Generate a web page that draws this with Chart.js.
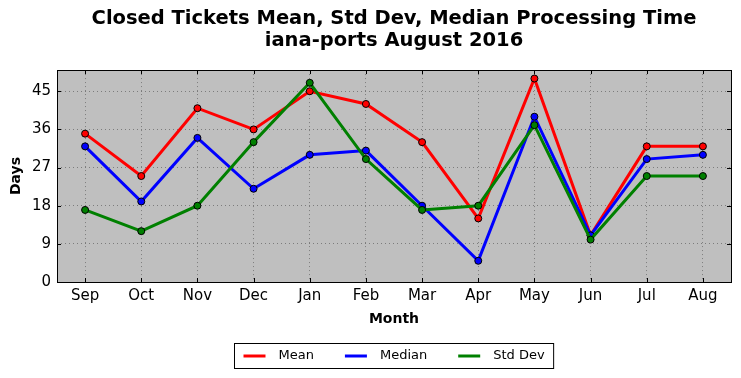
<!DOCTYPE html>
<html>
<head>
<meta charset="utf-8">
<script src="https://cdn.jsdelivr.net/npm/chart.js@4/dist/chart.umd.min.js"></script>
<style>
html,body{margin:0;padding:0;background:#fff;}
#wrap{width:741px;height:378px;}
</style>
</head>
<body>
<div id="wrap"><canvas id="c" width="741" height="378"></canvas></div>
<script>
const months = ["Sep","Oct","Nov","Dec","Jan","Feb","Mar","Apr","May","Jun","Jul","Aug"];
const meanValues = [35, 25, 41, 36, 45, 42, 33, 15, 48, 11, 32, 32];
const medianValues = [32, 19, 34, 22, 30, 31, 18, 5, 39, 11, 29, 30];
const stdDevValues = [17, 12, 18, 33, 47, 29, 17, 18, 37, 10, 25, 25];
const yTickValues = [0, 9, 18, 27, 36, 45];
const titleLines = ["Closed Tickets Mean, Std Dev, Median Processing Time", "iana-ports August 2016"];

const FONT = "'DejaVu Sans', sans-serif";

const frame = {
  id: 'frame',
  beforeDraw(chart) {
    const {ctx, chartArea: a} = chart;
    ctx.save();
    ctx.fillStyle = '#bfbfbf';
    ctx.fillRect(a.left, a.top, a.right - a.left, a.bottom - a.top);
    ctx.restore();
  },
  afterDraw(chart) {
    const {ctx, chartArea: a, scales} = chart;
    ctx.save();
    ctx.strokeStyle = '#000';
    ctx.lineWidth = 1;
    ctx.beginPath();
    scales.y.ticks.forEach(t => {
      const y = Math.round(scales.y.getPixelForValue(t.value)) + 0.5;
      ctx.moveTo(a.left, y); ctx.lineTo(a.left + 4, y);
      ctx.moveTo(a.right, y); ctx.lineTo(a.right - 4, y);
    });
    months.forEach((m, i) => {
      const x = Math.round(scales.x.getPixelForValue(i)) + 0.5;
      ctx.moveTo(x, a.bottom); ctx.lineTo(x, a.bottom - 4);
      ctx.moveTo(x, a.top); ctx.lineTo(x, a.top + 4);
    });
    ctx.stroke();
    ctx.strokeRect(Math.round(a.left) + 0.5, Math.round(a.top) + 0.5,
                   Math.round(a.right - a.left), Math.round(a.bottom - a.top));
    // legend box
    ctx.font = "13px " + FONT;
    const ds = chart.data.datasets;
    const lineW = 22, gap = 13, spacing = 31, pad = 9;
    const widths = ds.map(d => lineW + gap + ctx.measureText(d.label).width);
    const total = widths.reduce((s, w) => s + w, 0) + spacing * (ds.length - 1) + pad * 2;
    const cx = (a.left + a.right) / 2;
    const bx = Math.round(cx - total / 2) + 0.5;
    const by = 343.5, bh = 25;
    ctx.fillStyle = '#fff';
    ctx.fillRect(bx, by, total, bh);
    ctx.strokeStyle = '#000';
    ctx.strokeRect(bx, by, total, bh);
    let x = bx + pad;
    const ly = by + bh / 2;
    ds.forEach((d, i) => {
      ctx.strokeStyle = d.borderColor;
      ctx.lineWidth = 3;
      ctx.beginPath();
      ctx.moveTo(x, ly); ctx.lineTo(x + lineW, ly);
      ctx.stroke();
      ctx.fillStyle = '#000';
      ctx.textBaseline = 'middle';
      ctx.textAlign = 'left';
      ctx.fillText(d.label, x + lineW + gap, ly);
      x += widths[i] + spacing;
    });
    ctx.restore();
  }
};

function mkds(label, data, color, order) {
  return {
    label, data, order,
    borderColor: color,
    backgroundColor: color,
    borderWidth: 3,
    pointRadius: 3.5,
    pointBorderColor: '#000',
    pointBorderWidth: 1,
    pointBackgroundColor: color,
    tension: 0,
    fill: false
  };
}

new Chart(document.getElementById('c'), {
  type: 'line',
  data: {
    labels: months,
    datasets: [
      mkds('Mean', meanValues, '#ff0000', 2),
      mkds('Median', medianValues, '#0000ff', 1),
      mkds('Std Dev', stdDevValues, '#008000', 0)
    ]
  },
  options: {
    responsive: false,
    animation: false,
    devicePixelRatio: 1,
    layout: {padding: {left: 0, right: 10, top: 0, bottom: 48}},
    plugins: {
      legend: {display: false},
      tooltip: {enabled: false},
      title: {
        display: true,
        fullSize: false,
        text: titleLines,
        color: '#000',
        font: {family: FONT, size: 19.5, weight: 'bold', lineHeight: 1.13},
        padding: {top: 8, bottom: 18}
      }
    },
    scales: {
      x: {
        offset: true,
        grid: {offset: false, color: 'rgba(0,0,0,0.35)', drawTicks: false, tickLength: 0},
        border: {display: false, dash: [1, 3]},
        ticks: {color: '#000', font: {family: FONT, size: 15}, padding: 5, maxRotation: 0, autoSkip: false},
        title: {display: true, text: 'Month', color: '#000', font: {family: FONT, size: 14, weight: 'bold', lineHeight: 1.2}, padding: {top: 0, bottom: 2.6}},
        afterFit(s) { s.height = 48; }
      },
      y: {
        min: 0, max: 50,
        afterBuildTicks(s) { s.ticks = yTickValues.map(v => ({value: v})); },
        grid: {color: 'rgba(0,0,0,0.35)', drawTicks: false, tickLength: 0},
        border: {display: false, dash: [1, 3]},
        ticks: {color: '#000', font: {family: FONT, size: 15}, padding: 6},
        title: {display: true, text: 'Days', color: '#000', font: {family: FONT, size: 14, weight: 'bold', lineHeight: 1.2}, padding: {top: 7.5, bottom: 0}},
        afterFit(s) { s.width = 57; }
      }
    }
  },
  plugins: [frame]
});
</script>
</body>
</html>
